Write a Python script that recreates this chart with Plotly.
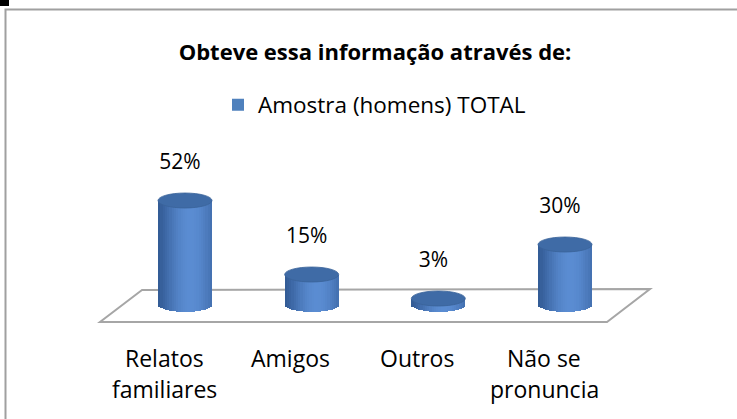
import numpy as np
import plotly.graph_objects as go

# ---------------- data ----------------
categories = ["Relatos<br>familiares", "Amigos", "Outros", "Não se<br>pronuncia"]
values = [52, 15, 3, 30]
value_labels = ["52%", "15%", "3%", "30%"]
series_name = "Amostra (homens) TOTAL"
title_text = "Obteve essa informação através de:"

# ---------------- geometry (pixels) ----------------
W, H = 737, 419
X0PX, XPX = 185.0, 126.67   # pixel x of first category, px per category
Y0PX, YPX = 304.5, 2.0      # pixel y of value 0, px per percent unit

xr = [-X0PX / XPX, (W - X0PX) / XPX]
yr = [-(H - Y0PX) / YPX, Y0PX / YPX]

BW = 54 / XPX        # cylinder width (x units)
EH = 7.5 / YPX       # ellipse half height (y units)
NS = 24              # shading strips
sw = BW / NS

xs = list(range(len(categories)))

dark = np.array([50, 90, 148])
light = np.array([90, 140, 210])

FONT = "Open Sans"

fig = go.Figure()

# cylinder bodies, drawn as shaded vertical strips
for k in range(NS):
    u = -1 + (2 * k + 1) / NS
    s = max(0.0, np.cos((u - 0.2) * np.pi / 2.4)) ** 1.2
    c = dark + (light - dark) * s
    color = "rgb(%d,%d,%d)" % tuple(c.round().astype(int))
    b = EH * np.sqrt(max(0.0, 1 - u * u))
    fig.add_trace(go.Bar(
        x=xs, y=[v + b for v in values], base=[-b] * len(values),
        offset=-BW / 2 + k * sw, width=sw * (1.3 if k < NS - 1 else 1.0),
        marker=dict(color=color, line=dict(width=0)),
        showlegend=False, hoverinfo="skip",
    ))

# legend entry
fig.add_trace(go.Bar(x=[None], y=[None], name=series_name,
                     marker=dict(color="#4F81BD", line=dict(width=0)),
                     showlegend=True, hoverinfo="skip"))

# value labels
fig.add_trace(go.Scatter(
    x=[x - 5 / XPX for x in xs], y=[v + 18.5 for v in values],
    mode="text", text=value_labels,
    textfont=dict(family=FONT, size=21, color="#000000"),
    showlegend=False, hoverinfo="skip",
))

shapes = []
# top ellipses of cylinders
for x, v in zip(xs, values):
    shapes.append(dict(type="circle", xref="x", yref="y",
                       x0=x - BW / 2, x1=x + BW / 2, y0=v - EH, y1=v + EH,
                       fillcolor="#3F6BA6", line=dict(color="#3A6399", width=0.8),
                       layer="above"))

def P(px, py):
    return px / W, 1 - py / H

# floor parallelogram
pts = [P(142, 290), P(100, 322), P(607, 322), P(650, 289)]
path = "M %f %f L %f %f L %f %f L %f %f Z" % tuple(c for p in pts for c in p)
shapes.append(dict(type="path", xref="paper", yref="paper", path=path,
                   line=dict(color="#A6A6A6", width=2), layer="below"))

# chart frame
shapes.append(dict(type="rect", xref="paper", yref="paper",
                   x0=5.5 / W, x1=1.02, y0=-0.02, y1=1 - 9.5 / H,
                   line=dict(color="#A0A0A0", width=2), layer="below"))
# small black mark in the corner
shapes.append(dict(type="rect", xref="paper", yref="paper",
                   x0=0, x1=9 / W, y0=1 - 6 / H, y1=1,
                   fillcolor="#000000", line=dict(width=0), layer="above"))

# category labels
annotations = []
for x, cat in zip(xs, categories):
    for j, line in enumerate(cat.split("<br>")):
        py = 358 + 31 * j
        annotations.append(dict(
            x=x - 21 / XPX, y=(Y0PX - py) / YPX, xref="x", yref="y",
            text=line, showarrow=False, xanchor="center", yanchor="middle",
            font=dict(family=FONT, size=23, color="#000000")))

fig.update_layout(
    width=W, height=H,
    margin=dict(l=0, r=0, t=0, b=0),
    paper_bgcolor="white", plot_bgcolor="rgba(0,0,0,0)",
    barmode="overlay", bargap=0,
    title=dict(text="<b>" + title_text + "</b>", x=375 / W, xanchor="center",
               y=1 - 52 / H, yanchor="middle", xref="paper", yref="paper",
               font=dict(family=FONT, size=22, color="#000000")),
    legend=dict(orientation="h", x=218 / W, xanchor="left",
                y=1 - 105 / H, yanchor="middle",
                font=dict(family=FONT, size=22.5, color="#000000"),
                bgcolor="rgba(0,0,0,0)", itemwidth=30),
    xaxis=dict(range=xr, visible=False, fixedrange=True),
    yaxis=dict(range=yr, visible=False, fixedrange=True),
    shapes=shapes, annotations=annotations,
    font=dict(family=FONT),
)

fig.write_html("out.html", config={"displayModeBar": False},
               post_script="document.body.style.margin='0';")
